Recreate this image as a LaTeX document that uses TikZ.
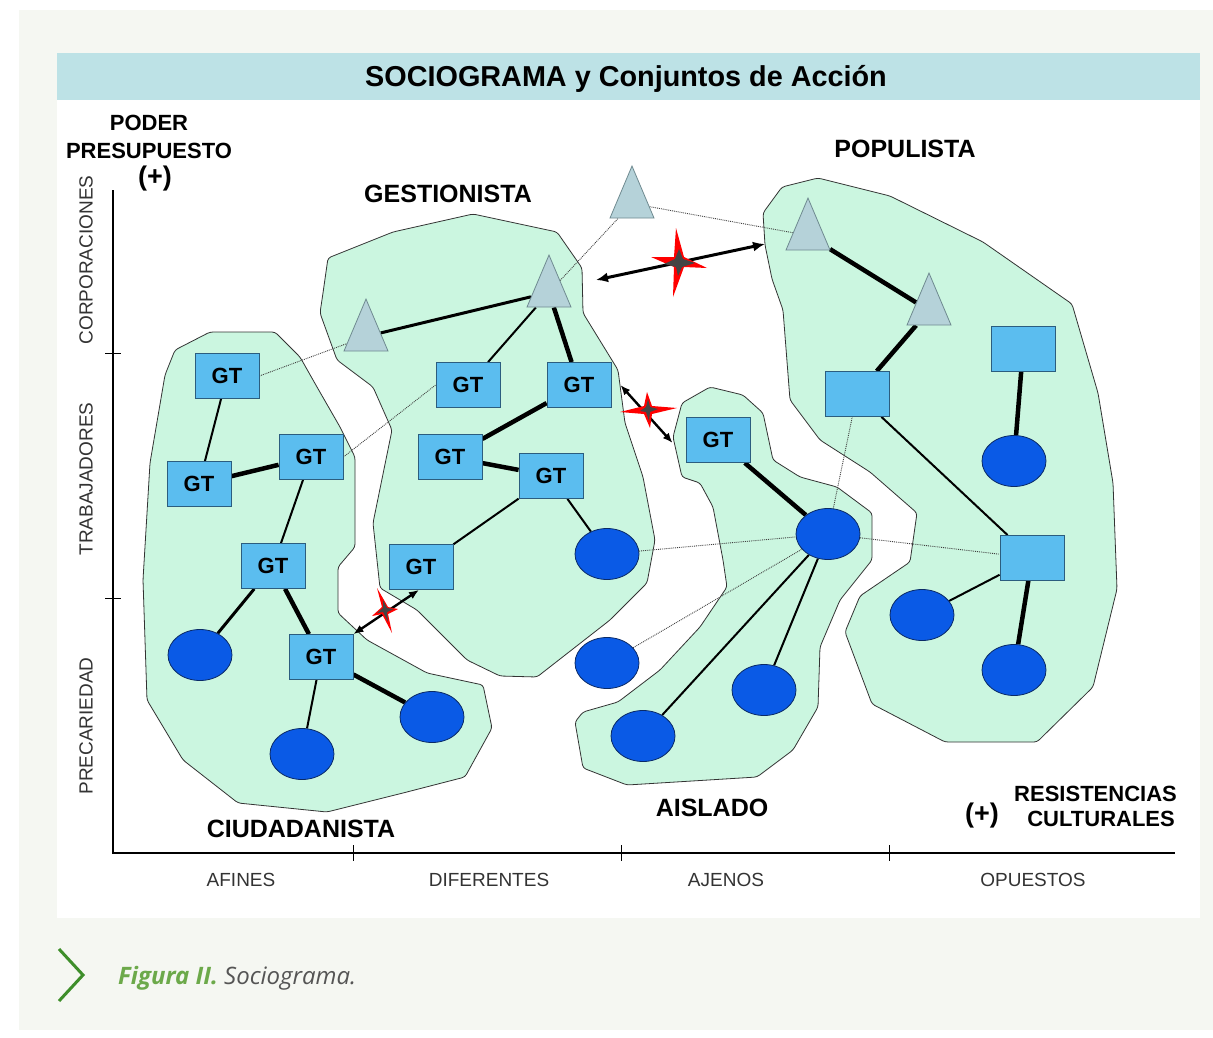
\documentclass[tikz,border=0pt]{standalone}
\usepackage{fontspec}
\setmainfont{Liberation Sans}
\newfontfamily\capfont{Open Sans}
\usetikzlibrary{shapes.geometric,arrows.meta}
\definecolor{panelc}{HTML}{F5F7F2}
\definecolor{titlec}{HTML}{BDE2E6}
\definecolor{blobc}{HTML}{CBF6E0}
\definecolor{boxc}{HTML}{5BBDEF}
\definecolor{boxline}{HTML}{2B5D7F}
\definecolor{ellc}{HTML}{0A5AE6}
\definecolor{ellline}{HTML}{0A2A66}
\definecolor{trc}{HTML}{B5D2D9}
\definecolor{trline}{HTML}{6F8A90}
\definecolor{capgreen}{HTML}{6CA94A}
\definecolor{chevc}{HTML}{3E8E2A}
\definecolor{capgray}{HTML}{555555}
\definecolor{axgray}{HTML}{333333}
\definecolor{starin}{HTML}{444444}
\newcommand\ttlfnt{\fontsize{28.8}{32}\selectfont\bfseries}
\newcommand\grpfnt{\fontsize{25}{28}\selectfont\bfseries}
\newcommand\podfnt{\fontsize{22}{26}\selectfont\bfseries}
\newcommand\plusfnt{\fontsize{27}{30}\selectfont\bfseries}
\newcommand\axfnt{\fontsize{19}{22}\selectfont}
\newcommand\gtfnt{\fontsize{22}{24}\selectfont\bfseries}
\pgfdeclarelayer{bg}
\pgfdeclarelayer{links}
\pgfsetlayers{bg,links,main}
\begin{document}
\begin{tikzpicture}[x=1pt,y=-1pt,
  blob/.style={fill=blobc, draw=black!80, line width=0.8pt, rounded corners=3pt},
  gt/.style={rectangle, draw=boxline, line width=0.8pt, fill=boxc, minimum width=64pt, minimum height=45pt, inner sep=0pt, font=\gtfnt},
  ell/.style={ellipse, draw=ellline, line width=0.8pt, fill=ellc, minimum width=64pt, minimum height=51pt, inner sep=0pt},
  tri/.style={isosceles triangle, isosceles triangle stretches=true, shape border rotate=90, draw=trline, line width=0.8pt, fill=trc, minimum width=44pt, minimum height=52pt, inner sep=0pt, anchor=apex},
  lnkA/.style={line width=2pt},
  lnkB/.style={line width=3pt},
  lnkC/.style={line width=4.5pt},
  dots/.style={densely dotted, line width=0.9pt, draw=black!75},
  clashA/.style={{Latex[length=12pt,width=10pt]}-{Latex[length=12pt,width=10pt]}, line width=3pt},
  clashB/.style={{Latex[length=10pt,width=8pt]}-{Latex[length=10pt,width=8pt]}, line width=2.4pt},
  starred/.style={fill=red},
  stardark/.style={fill=starin},
  lbl/.style={inner sep=0pt},
]
\useasboundingbox (0,0) rectangle (1213,1038);
\begin{pgfonlayer}{bg}
\fill[white] (0,0) rectangle (1213,1038);
\fill[panelc] (19,10) rectangle (1213,1030);
\fill[white] (57,53) rectangle (1200,918);
\fill[titlec] (57,53) rectangle (1200,100);
% Ciudadanista
\path[blob] (210,332) -- (275,332) -- (300,357) -- (317,387) -- (340,427) -- (355,457) -- (355,547) -- (338,567) -- (338,613) -- (367,640) -- (427,673) -- (483,685) -- (492,728) -- (465,777) -- (403,793) -- (327,812) -- (238,803) -- (183,760) -- (147,700) -- (143,580) -- (150,463) -- (165,375) -- (175,350) -- cycle;
% Gestionista
\path[blob] (328,258) -- (393,232) -- (473,214) -- (557,232) -- (582,268) -- (583,313) -- (618,370) -- (625,423) -- (643,477) -- (655,540) -- (647,583) -- (610,620) -- (537,677) -- (500,676) -- (467,660) -- (417,610) -- (380,588) -- (373,523) -- (392,430) -- (373,387) -- (337,360) -- (320,313) -- (323,293) -- cycle;
% Aislado
\path[blob] (710,387) -- (743,395) -- (763,413) -- (773,460) -- (800,477) -- (837,487) -- (872,513) -- (872,560) -- (840,600) -- (820,647) -- (818,707) -- (793,750) -- (757,777) -- (627,785) -- (583,768) -- (575,722) -- (583,712) -- (618,702) -- (660,670) -- (700,627) -- (727,587) -- (723,560) -- (713,507) -- (700,483) -- (682,477) -- (673,437) -- (682,403) -- cycle;
% Populista
\path[blob] (763,213) -- (782,187) -- (818,178) -- (890,196) -- (983,242) -- (1072,304) -- (1098,393) -- (1113,483) -- (1117,589) -- (1093,687) -- (1037,742) -- (945,742) -- (872,704) -- (845,632) -- (860,596) -- (910,562) -- (917,513) -- (870,472) -- (820,440) -- (790,400) -- (783,310) -- (772,279) -- (765,245) -- cycle;
\end{pgfonlayer}

% caption
\draw[chevc, line width=3pt] (59,949) -- (83,975) -- (59,1001);
\node[lbl, anchor=base west] (cap) at (118,984) {\capfont\fontsize{24}{28}\selectfont\itshape\bfseries\color{capgreen}Figura II.\ \mdseries\color{capgray}Sociograma.};

% title and labels
\node[lbl] (title) at (626,79) {\ttlfnt SOCIOGRAMA y Conjuntos de Acción};
\node[lbl, anchor=base] (poder) at (149,131) {\podfnt PODER};
\node[lbl, anchor=base] (presu) at (149,159) {\podfnt PRESUPUESTO};
\node[lbl] (plusy) at (155,179) {\plusfnt (+)};
\node[lbl] (gest) at (448,194) {\grpfnt GESTIONISTA};
\node[lbl] (popu) at (905,149) {\grpfnt POPULISTA};
\node[lbl] (ciud) at (301,829) {\grpfnt CIUDADANISTA};
\node[lbl] (aisl) at (712,808) {\grpfnt AISLADO};
\node[lbl] (plusx) at (982,816) {\plusfnt (+)};
\node[lbl, anchor=east] (resi) at (1177,794) {\podfnt RESISTENCIAS};
\node[lbl, anchor=east] (cult) at (1175,819) {\podfnt CULTURALES};
\node[lbl, text=axgray] (afi) at (241,880) {\axfnt AFINES};
\node[lbl, text=axgray] (dif) at (489,880) {\axfnt DIFERENTES};
\node[lbl, text=axgray] (aje) at (726,880) {\axfnt AJENOS};
\node[lbl, text=axgray] (opu) at (1033,880) {\axfnt OPUESTOS};
\node[lbl, text=axgray, rotate=90] (corp) at (86,260) {\axfnt CORPORACIONES};
\node[lbl, text=axgray, rotate=90] (trab) at (86,479) {\axfnt TRABAJADORES};
\node[lbl, text=axgray, rotate=90] (prec) at (86,726) {\axfnt PRECARIEDAD};

% axes
\coordinate (ytop) at (113,190);
\coordinate (orig) at (113,853);
\coordinate (xend) at (1175,853);
\draw[line width=2.4pt] (ytop) -- (orig) -- (xend);
\foreach \yy in {353,598} \draw[line width=1pt] (105,\yy) -- (121,\yy);
\foreach \xx in {353,621,889} \draw[line width=1pt] (\xx,845) -- (\xx,861);

% nodes: Ciudadanista
\node[gt] (g1) at (227,376) {GT};
\node[gt] (g2) at (199,484) {GT};
\node[gt] (g3) at (311,457) {GT};
\node[gt] (g4) at (273,566) {GT};
\node[gt] (g5) at (321,657) {GT};
\node[ell] (e1) at (200,655) {};
\node[ell] (e2) at (302,754) {};
\node[ell] (e3) at (432,717) {};
% Gestionista
\node[tri] (t1) at (366,298) {};
\node[tri] (t2) at (549,254) {};
\node[tri] (t0) at (632,165) {};
\node[gt] (g6) at (468,385) {GT};
\node[gt] (g7) at (579,385) {GT};
\node[gt] (g8) at (450,457) {GT};
\node[gt] (g9) at (551,476) {GT};
\node[gt] (g10) at (421,567) {GT};
\node[ell] (e4) at (607,554) {};
% Aislado
\node[gt] (g11) at (718,440) {GT};
\node[ell] (eb) at (828,534) {};
\node[ell] (e5) at (607,663) {};
\node[ell] (e6) at (643,736) {};
\node[ell] (e7) at (764,690) {};
% Populista
\node[tri] (t3) at (808,197) {};
\node[tri] (t4) at (929,272) {};
\node[gt] (s1) at (857,394) {};
\node[gt] (s2) at (1023,349) {};
\node[gt] (s3) at (1032,558) {};
\node[ell] (e8) at (1014,461) {};
\node[ell] (e9) at (922,615) {};
\node[ell] (e10) at (1014,670) {};

\begin{pgfonlayer}{links}
\draw[lnkA] (g1) -- (g2);
\draw[lnkC] (g2) -- (g3);
\draw[lnkA] (g3) -- (g4);
\draw[lnkB] (g4) -- (e1);
\draw[lnkC] (g4) -- (g5);
\draw[lnkA] (g5) -- (e2);
\draw[lnkC] (g5) -- (e3);
\draw[lnkB] (t1) -- (t2);
\draw[lnkA] (t2) -- (g6);
\draw[lnkC] (t2) -- (g7);
\draw[lnkC] (g7) -- (g8);
\draw[lnkC] (g8) -- (g9);
\draw[lnkA] (g9) -- (g10);
\draw[lnkA] (g9) -- (e4);
\draw[lnkC] (g11) -- (eb);
\draw[lnkA] (eb) -- (e6);
\draw[lnkA] (eb) -- (e7);
\draw[lnkC] (t3) -- (t4);
\draw[lnkC] (t4) -- (s1);
\draw[lnkC] (s2) -- (e8);
\draw[lnkA] (s1) -- (s3);
\draw[lnkA] (s3) -- (e9);
\draw[lnkC] (s3) -- (e10);
% dotted relations
\draw[dots] (g1.east) -- (t1);
\draw[dots] (g3.east) -- (g6.west);
\draw[dots] (t2) -- (t0);
\draw[dots] (t0) -- (t3);
\draw[dots] (e4) -- (eb);
\draw[dots] (e5) -- (eb);
\draw[dots] (eb) -- (s3);
\draw[dots] (eb) -- (s1);
\end{pgfonlayer}

% conflict arrows
\draw[clashA] ([shift={(47,26)}]t2.apex) -- ([shift={(-43,47)}]t3.apex);
\draw[clashB] ([xshift=9pt]g7.east) -- ([shift={(-13,3)}]g11.west);
\draw[clashB] (g5.north east) -- ([shift={(-2,0)}]g10.south);

% conflict stars
\fill[starred] (676,228) -- (684,257) -- (707,268) -- (684,267) -- (673,297) -- (674,267) -- (651,257) -- (674,257) -- cycle;
\fill[stardark] (679,249) -- (683,259) -- (695,263) -- (682,267) -- (678,276) -- (676,267) -- (664,264) -- (675,259) -- cycle;
\fill[starred] (647,392) -- (652,406) -- (677,408) -- (652,414) -- (650,428) -- (644,414) -- (620,412) -- (644,406) -- cycle;
\fill[stardark] (648,399) -- (650,407) -- (658,409) -- (650,412) -- (649,421) -- (646,412) -- (640,411) -- (646,407) -- cycle;
\fill[starred] (377,588) -- (388,607) -- (398,609) -- (388,614) -- (392,633) -- (382,614) -- (372,616) -- (382,607) -- cycle;
\fill[stardark] (383,600) -- (387,608) -- (394,609) -- (387,612) -- (388,622) -- (383,612) -- (377,613) -- (383,608) -- cycle;
\end{tikzpicture}
\end{document}
